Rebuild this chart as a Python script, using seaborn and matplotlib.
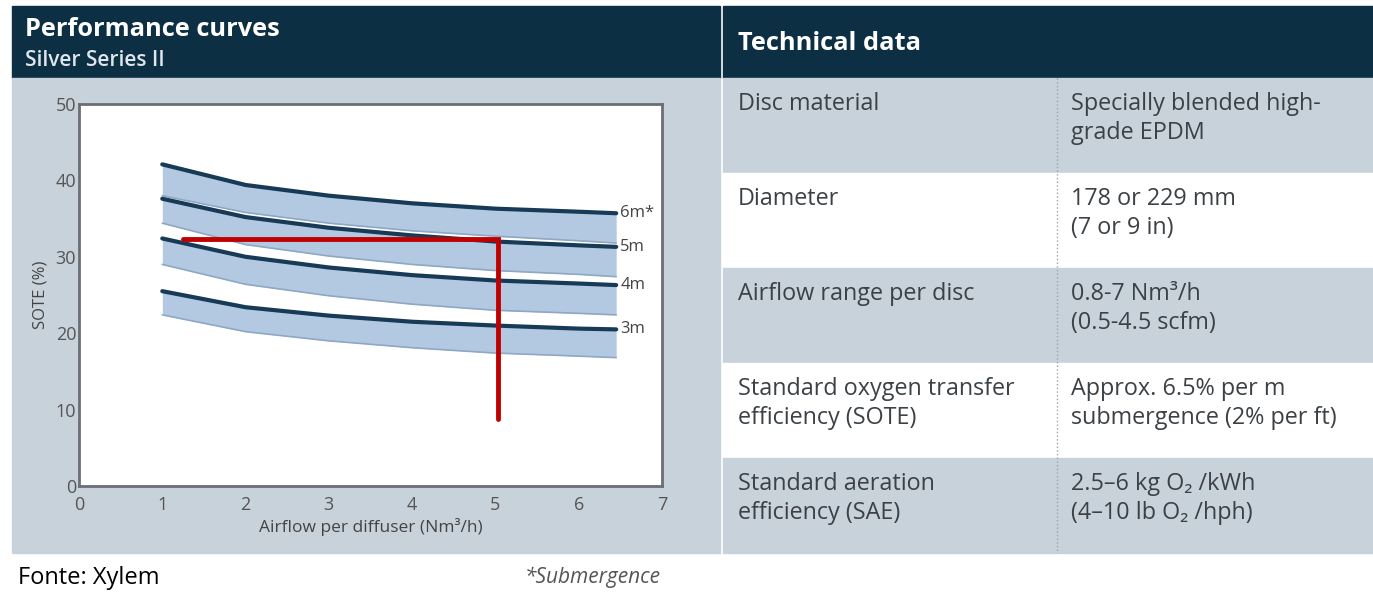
import numpy as np
import pandas as pd
import matplotlib.pyplot as plt
import seaborn as sns
from matplotlib.patches import Rectangle

# airflow positions (Nm3/h) where the curves were read
airflow = [1, 2, 3, 4, 5, 6, 6.45]

# upper (dark) line and lower edge of each submergence band, SOTE %
sote_6m_top = [42.1, 39.4, 38.0, 37.0, 36.3, 35.9, 35.7]
sote_6m_low = [38.0, 35.8, 34.4, 33.4, 32.7, 32.1, 31.8]
sote_5m_top = [37.6, 35.2, 33.8, 32.8, 32.0, 31.5, 31.3]
sote_5m_low = [34.4, 31.6, 30.1, 29.0, 28.2, 27.7, 27.4]
sote_4m_top = [32.4, 30.0, 28.6, 27.6, 26.9, 26.5, 26.3]
sote_4m_low = [29.0, 26.4, 24.9, 23.8, 23.0, 22.6, 22.4]
sote_3m_top = [25.5, 23.4, 22.3, 21.5, 21.0, 20.6, 20.5]
sote_3m_low = [22.4, 20.2, 19.0, 18.1, 17.4, 17.0, 16.8]

depths = ["6m*", "5m", "4m", "3m"]

# red reading guide drawn over the chart
guide_x = [1.25, 5.03, 5.03]
guide_y = [32.3, 32.3, 8.8]

# technical data table
tech_labels = ["Disc material", "Diameter", "Airflow range per disc",
               "Standard oxygen transfer\nefficiency (SOTE)",
               "Standard aeration\nefficiency (SAE)"]
tech_values = ["Specially blended high-\ngrade EPDM", "178 or 229 mm\n(7 or 9 in)",
               "0.8-7 Nm³/h\n(0.5-4.5 scfm)",
               "Approx. 6.5% per m\nsubmergence (2% per ft)",
               "2.5–6 kg O₂ /kWh\n(4–10 lb O₂ /hph)"]

NAVY = "#0c2f44"
GRAY = "#c8d2db"
TXT = "#3c4146"
BAND = "#b3c9e2"
LINE = "#173a57"

sns.set_theme(style="white")
plt.rcParams["font.family"] = ["Open Sans", "DejaVu Sans"]

W, H = 1373, 597
fig = plt.figure(figsize=(W / 100, H / 100), dpi=100)

# background layer in pixel coordinates
bg = fig.add_axes([0, 0, 1, 1])
bg.set_xlim(0, W)
bg.set_ylim(H, 0)
bg.axis("off")

bg.add_patch(Rectangle((12, 6), 708, 72, color=NAVY))
bg.add_patch(Rectangle((12, 78), 708, 475, color=GRAY))
bg.add_patch(Rectangle((723, 6), 650, 72, color=NAVY))
bg.text(25, 29, "Performance curves", color="white", fontsize=18.3, fontweight="bold", va="center")
bg.text(25, 61, "Silver Series II", color="#dfe6ec", fontsize=15, fontweight="semibold", va="center")
bg.text(738, 43, "Technical data", color="white", fontsize=18.3, fontweight="bold", va="center")

row_top = 78
row_h = 95
for i, (lab, val) in enumerate(zip(tech_labels, tech_values)):
    y0 = row_top + i * row_h
    bg.add_patch(Rectangle((723, y0), 650, row_h, color=GRAY if i % 2 == 0 else "white"))
    bg.text(738, y0 + 14, lab, color=TXT, fontsize=16.8, va="top", linespacing=1.3)
    bg.text(1071, y0 + 14, val, color=TXT, fontsize=16.8, va="top", linespacing=1.3)
bg.plot([1057, 1057], [78, 553], color="#9aa3ab", lw=1, ls=":")

bg.text(18, 578, "Fonte: Xylem", color="black", fontsize=17, va="center")
bg.text(525, 577, "*Submergence", color="#555", fontsize=15, style="italic", va="center")

# performance chart
ax = fig.add_axes([79 / W, (H - 486) / H, (662 - 79) / W, (486 - 104) / H])
ax.set_facecolor("white")

tops = [sote_6m_top, sote_5m_top, sote_4m_top, sote_3m_top]
lows = [sote_6m_low, sote_5m_low, sote_4m_low, sote_3m_low]
for top, low in zip(tops, lows):
    ax.fill_between(airflow, low, top, color=BAND, lw=0)
    ax.plot(airflow, low, color="#8ea8c4", lw=1.2)

curves = pd.DataFrame({
    "airflow": airflow * 4,
    "sote": sote_6m_top + sote_5m_top + sote_4m_top + sote_3m_top,
    "depth": [d for d in depths for _ in airflow],
})
sns.lineplot(data=curves, x="airflow", y="sote", units="depth", estimator=None,
             color=LINE, lw=3, ax=ax, legend=False)

for d, top in zip(depths, tops):
    ax.text(6.5, top[-1], d, color="#444", fontsize=12, va="center")

ax.plot(guide_x, guide_y, color="#c00000", lw=3.5, solid_joinstyle="miter")

ax.set_xlim(0, 7)
ax.set_ylim(0, 50)
ax.set_xticks(range(0, 8))
ax.set_yticks(range(0, 60, 10))
ax.tick_params(direction="in", length=6, width=1.6, color="#666", labelcolor="#555",
               labelsize=13)
ax.tick_params(axis="x", pad=7)
ax.tick_params(axis="y", pad=2)
ax.set_xlabel("Airflow per diffuser (Nm³/h)", color="#444", fontsize=12.5, labelpad=3)
ax.set_ylabel("SOTE (%)", color="#444", fontsize=12, labelpad=5)
for s in ax.spines.values():
    s.set_color("#6a6f74")
    s.set_linewidth(2)
    s.set_visible(True)

fig.savefig("out.png", dpi=100)
